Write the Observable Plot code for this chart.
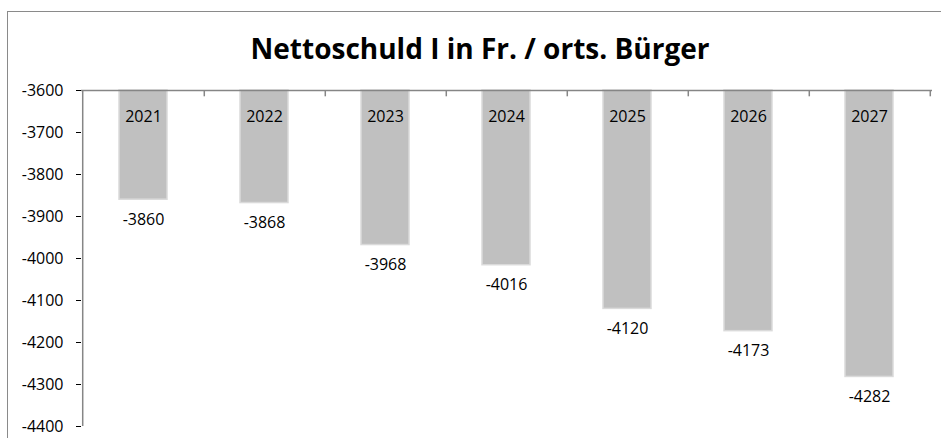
<!DOCTYPE html>
<html>
<head>
<meta charset="utf-8">
<script src="https://cdn.jsdelivr.net/npm/d3@7"></script>
<script src="https://cdn.jsdelivr.net/npm/@observablehq/plot@0.6"></script>
<style>
  html, body { margin: 0; padding: 0; background: #fff; overflow: hidden; }
  #wrap { position: relative; width: 941px; height: 438px; overflow: hidden; }
  #border { position: absolute; left: 7px; top: 11px; width: 1200px; height: 1200px; border: 1.5px solid #8a8a8a; box-sizing: border-box; }
  #title { position: absolute; left: 19px; top: 30px; width: 922px; text-align: center;
           font-family: "Open Sans", sans-serif; font-weight: bold; font-size: 28px; color: #000; line-height: 36px; }
  #chart { position: absolute; left: 0; top: 0; }
</style>
</head>
<body>
<div id="wrap">
  <div id="border"></div>
  <div id="title">Nettoschuld I in Fr. / orts. Bürger</div>
  <div id="chart"></div>
</div>
<script>
const years = ["2021", "2022", "2023", "2024", "2025", "2026", "2027"];
const values = [-3860, -3868, -3968, -4016, -4120, -4173, -4282];
const yTicks = [-3600, -3700, -3800, -3900, -4000, -4100, -4200, -4300, -4400];
const baseline = -3600;
const yMin = -4400;

const data = years.map((y, i) => ({year: y, value: values[i]}));

const W = 941, H = 438, mL = 81, mR = 9, mT = 90, mB = 12;
const step = (W - mL - mR) / years.length;

const chart = Plot.plot({
  width: W,
  height: H,
  marginLeft: mL,
  marginRight: mR,
  marginTop: mT,
  marginBottom: mB,
  style: {fontFamily: "'Open Sans', sans-serif", fontSize: "16px", color: "#000", background: "transparent", overflow: "visible"},
  x: {type: "band", domain: years, paddingInner: 0.6, paddingOuter: 0.3, axis: null},
  y: {domain: [yMin, baseline], ticks: yTicks, tickFormat: d => String(d), tickSize: 5, tickPadding: 13, label: null},
  marks: [
    Plot.barY(data, {x: "year", y1: baseline, y2: "value", fill: "#c0c0c0", stroke: "#dadada", strokeWidth: 1.5}),
    Plot.ruleX([years[0]], {x: d => d, y1: yMin, y2: baseline, dx: -step / 2, stroke: "#868686", strokeWidth: 1.5}),
    Plot.ruleY([baseline], {stroke: "#868686", strokeWidth: 1.5}),
    Plot.ruleX(years, {x: d => d, y1: baseline, y2: -3615, dx: step / 2, stroke: "#868686", strokeWidth: 1.5}),
    Plot.text(data, {x: "year", y: baseline, dy: 26, text: "year", fill: "#000"}),
    Plot.text(data, {x: "year", y: "value", dy: 20, text: d => String(d.value), fill: "#000"})
  ]
});
document.getElementById("chart").appendChild(chart);
</script>
</body>
</html>
